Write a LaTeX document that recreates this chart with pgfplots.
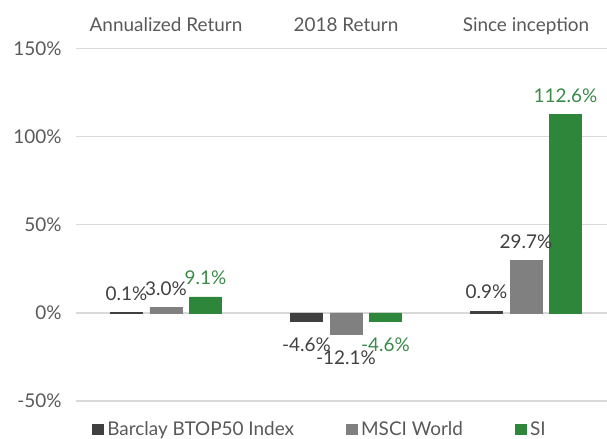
\documentclass[border=0pt]{standalone}
\usepackage{pgfplots}
\pgfplotsset{compat=1.18}
\usepackage{fontspec}
\setmainfont{Lato}
\definecolor{cdark}{HTML}{404040}
\definecolor{cgray}{HTML}{808080}
\definecolor{cgreen}{HTML}{2E863A}
\definecolor{cgreentext}{HTML}{3A8A48}
\definecolor{ctext}{HTML}{595959}
\definecolor{cgrid}{HTML}{D9D9D9}
\begin{document}
\begin{tikzpicture}
\begin{axis}[
  scale only axis,
  width=531bp, height=352.5bp,
  xmin=-0.5, xmax=2.45,
  ymin=-50, ymax=150,
  ytick={-50,0,50,100,150},
  yticklabel={\pgfmathprintnumber{\tick}\%},
  xtick={0,1,2},
  xticklabels={Annualized Return,2018 Return,Since inception},
  xticklabel pos=upper,
  axis line style={draw=none},
  major tick length=0pt,
  ymajorgrids,
  grid style={cgrid, line width=1.3bp},
  ybar=7.5bp,
  bar width=32bp,
  /pgf/number format/assume math mode=true,
  font=\fontsize{19}{22}\selectfont,
  ticklabel style={text=ctext, font=\fontsize{19}{22}\selectfont},
  yticklabel style={xshift=-11bp},
  xticklabel style={anchor=base, yshift=16.5bp},
  nodes near coords={\pgfmathprintnumber[fixed,fixed zerofill,precision=1]{\pgfplotspointmeta}\%},
  every node near coord/.append style={font=\fontsize{19}{22}\selectfont, inner xsep=0bp, inner ysep=12bp, text height=18bp, text depth=0bp},
  legend columns=3,
  legend style={draw=none, fill=none, inner sep=0pt,
    at={(16bp,-28.5bp)}, anchor=west,
    nodes={inner sep=0pt, text=ctext, font=\fontsize{19}{22}\selectfont},
    column sep=4bp,
    /tikz/every even column/.append style={column sep=52bp}},
  legend image code/.code={\fill[#1] (0bp,-5bp) rectangle (10.5bp,5.5bp);},
]
\addplot[fill=cdark, draw=cdark, line width=0.6bp, every node near coord/.append style={text=cdark}] coordinates {(0,0.1) (1,-4.6) (2,0.9)};
\addplot[fill=cgray, draw=cgray, line width=0.6bp, every node near coord/.append style={text=cdark}] coordinates {(0,3.0) (1,-12.1) (2,29.7)};
\addplot[fill=cgreen, draw=cgreen, line width=0.6bp, every node near coord/.append style={text=cgreentext}] coordinates {(0,9.1) (1,-4.6) (2,112.6)};
\legend{Barclay BTOP50 Index, MSCI World, SI}
\coordinate (bl) at (rel axis cs:0,0);
\coordinate (tr) at (rel axis cs:1,1);
\end{axis}
\pgfresetboundingbox
\path ([shift={(-76bp,-38bp)}]bl) rectangle ([shift={(0bp,48.5bp)}]tr);
\end{tikzpicture}
\end{document}
